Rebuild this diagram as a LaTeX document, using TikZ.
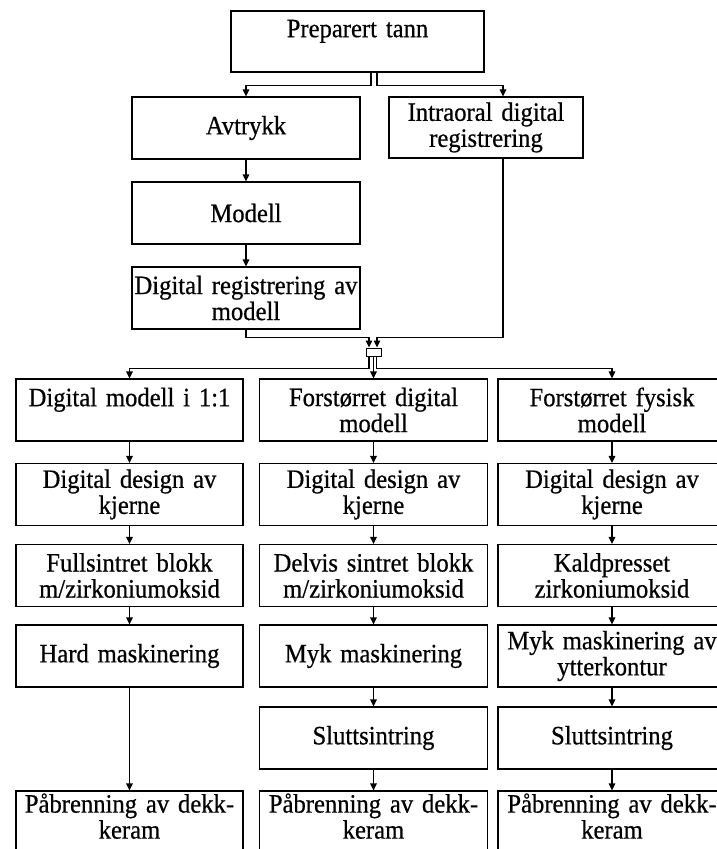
\documentclass[tikz,border=0pt]{standalone}
\usepackage{fontspec}
\setmainfont{Liberation Serif}[FakeStretch=0.93, FakeBold=0.6, WordSpace=0.7]
\usepackage{tikz}
\usetikzlibrary{arrows.meta}

\begin{document}
\begin{tikzpicture}[x=1pt, y=-1pt,
    boks/.style={draw, line width=1.1pt, align=center, inner xsep=0pt, inner ysep=2pt,
      text width=#1, minimum height=62pt, font=\fontsize{26.5}{26}\selectfont},
    boks/.default=228pt,
    pil/.style={-{Triangle[length=7pt,width=6.5pt]}, line width=1.1pt}]
        \useasboundingbox (0,0) rectangle (717,849);
        % Toppen
        \node[boks=253pt, minimum height=61pt] (tann) at (357.5,41.5) {Preparert tann\\\mbox{}};
        \node[boks] (avtrykk) at (246,128) {Avtrykk};
        \node[boks=194pt, minimum height=61pt] (intraoral) at (486,127.5) {Intraoral digital\\registrering};
        \node[boks] (modell) at (246,213) {Modell};
        \node[boks] (digreg) at (246,298) {Digital registrering av\\modell};
        \node[draw, line width=1pt, minimum width=15pt, minimum height=8pt, inner sep=0pt] (fletting) at (373.5,352) {};
        % Kolonne 1
        \node[boks=227pt] (a1) at (129.5,410) {Digital modell i 1:1\\\mbox{}};
        \node[boks=227pt] (a2) at (129.5,494.5) {Digital design av\\kjerne};
        \node[boks=227pt] (a3) at (129.5,575.5) {Fullsintret blokk\\m/zirkoniumoksid};
        \node[boks=227pt] (a4) at (129.5,656) {Hard maskinering};
        \node[boks=227pt] (a6) at (129.5,822) {Påbrenning av dekk-\\keram\\[-14pt]\mbox{}};
        % Kolonne 2
        \node[boks] (b1) at (373.5,410) {Forstørret digital\\modell};
        \node[boks] (b2) at (373.5,494.5) {Digital design av\\kjerne};
        \node[boks] (b3) at (373.5,575.5) {Delvis sintret blokk\\m/zirkoniumoksid};
        \node[boks] (b4) at (373.5,656) {Myk maskinering};
        \node[boks] (b5) at (373.5,738) {Sluttsintring};
        \node[boks] (b6) at (373.5,822) {Påbrenning av dekk-\\keram\\[-14pt]\mbox{}};
        % Kolonne 3
        \node[boks] (c1) at (612,410) {Forstørret fysisk\\modell};
        \node[boks] (c2) at (612,494.5) {Digital design av\\kjerne};
        \node[boks] (c3) at (612,575.5) {Kaldpresset\\zirkoniumoksid};
        \node[boks] (c4) at (612,656) {Myk maskinering av\\ytterkontur};
        \node[boks] (c5) at (612,738) {Sluttsintring};
        \node[boks] (c6) at (612,822) {Påbrenning av dekk-\\keram\\[-14pt]\mbox{}};
        % Piler
        \draw[pil] ([xshift=13.5pt]tann.south) -- ++(0,13) -| (avtrykk.north);
        \draw[pil] ([xshift=19.5pt]tann.south) -- ++(0,13) -| ([xshift=17pt]intraoral.north);
        \draw[pil] (avtrykk) -- (modell);
        \draw[pil] (modell) -- (digreg);
        \draw[pil] (digreg.south) -- ++(0,8) -| ([xshift=-4.5pt]fletting.north);
        \draw[pil] ([xshift=17pt]intraoral.south) -- ++(0,179) -| ([xshift=3.5pt]fletting.north);
        \draw[pil] ([xshift=-4.5pt]fletting.south) -- ++(0,12) -| (a1.north);
        \draw[pil] (fletting.south) -- (b1.north);
        \draw[pil] ([xshift=3pt]fletting.south) -- ++(0,12) -| (c1.north);
        \draw[pil] (a1) -- (a2);
        \draw[pil] (a2) -- (a3);
        \draw[pil] (a3) -- (a4);
        \draw[pil] (a4) -- (a6);
        \draw[pil] (b1) -- (b2);
        \draw[pil] (b2) -- (b3);
        \draw[pil] (b3) -- (b4);
        \draw[pil] (b4) -- (b5);
        \draw[pil] (b5) -- (b6);
        \draw[pil] (c1) -- (c2);
        \draw[pil] (c2) -- (c3);
        \draw[pil] (c3) -- (c4);
        \draw[pil] (c4) -- (c5);
        \draw[pil] (c5) -- (c6);
    \end{tikzpicture}
\end{document}
